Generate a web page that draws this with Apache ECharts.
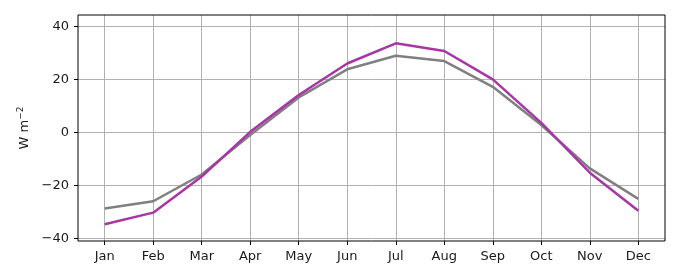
<!DOCTYPE html>
<html><head><meta charset="utf-8">
<script src="https://cdn.jsdelivr.net/npm/echarts@6/dist/echarts.min.js"></script>
<style>html,body{margin:0;padding:0;background:#fff}#c{width:680px;height:280px}</style>
</head><body><div id="c"></div>
<script>
const months = ['Jan','Feb','Mar','Apr','May','Jun','Jul','Aug','Sep','Oct','Nov','Dec'];
const grayValues = [-28.7,-26.0,-15.9,-1.0,13.2,23.8,28.9,26.9,17.2,2.8,-13.6,-25.1];
const purpleValues = [-34.7,-30.3,-16.7,0.2,14.1,26.0,33.6,30.7,20.0,3.6,-15.2,-29.6];
const yTicks = [-40,-20,0,20,40];
const monthIdx = months.map((m,i)=>i);

const chart = echarts.init(document.getElementById('c'), null, {renderer:'canvas'});
const font = 'DejaVu Sans';
chart.setOption({
  animation:false,
  grid:{left:78, right:15, top:15, bottom:39, show:true, borderColor:'#000', borderWidth:1, backgroundColor:'transparent', z:5},
  xAxis:{type:'value', min:-0.55, max:11.55,
    axisLine:{show:false, onZero:false},
    axisTick:{show:true, customValues:monthIdx, length:4, lineStyle:{color:'#000'}},
    axisLabel:{customValues:monthIdx, formatter:v=>months[Math.round(v)], color:'#1a1a1a', fontFamily:font, fontSize:13, margin:9},
    splitLine:{show:true, lineStyle:{color:'#b0b0b0', width:1}}
  },
  yAxis:{type:'value', min:-41, max:44.3,
    name:'W m{sup|−2}', nameLocation:'middle', nameGap:44, nameRotate:90,
    nameTextStyle:{fontFamily:font, fontSize:13, color:'#1a1a1a', rich:{sup:{fontSize:9, verticalAlign:'top', padding:[0,0,8,0], fontFamily:font}}},
    axisLine:{show:false, onZero:false},
    axisTick:{show:true, customValues:yTicks, length:4, lineStyle:{color:'#000'}},
    axisLabel:{customValues:yTicks, formatter:v=>String(v).replace('-','−'), color:'#1a1a1a', fontFamily:font, fontSize:13, margin:9},
    splitLine:{show:true, lineStyle:{color:'#b0b0b0', width:1}}
  },
  series:[
    {type:'line', data:grayValues.map((v,i)=>[i,v]), symbol:'none', lineStyle:{color:'#808080', width:2.5}, z:3},
    {type:'line', data:purpleValues.map((v,i)=>[i,v]), symbol:'none', lineStyle:{color:'#a835a5', width:2.5}, z:4}
  ]
});
</script></body></html>
